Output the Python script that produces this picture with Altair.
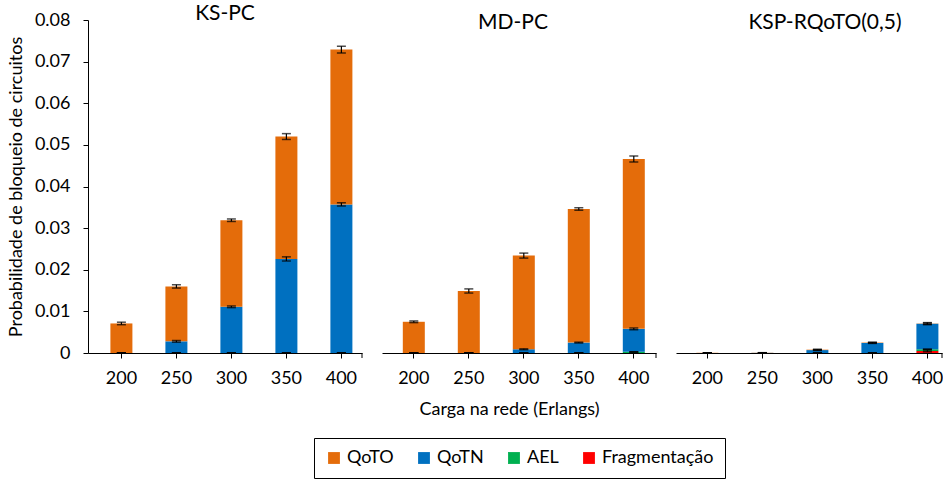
import altair as alt
import pandas as pd

loads = ["200", "250", "300", "350", "400"]
schemes = ["KS-PC", "MD-PC", "KSP-RQoTO(0,5)"]
causes = ["QoTO", "QoTN", "AEL", "Fragmentação"]
cause_colors = ["#E46C0A", "#0070C0", "#00B050", "#FF0000"]
stack_order = ["Fragmentação", "AEL", "QoTN", "QoTO"]  # bottom -> top

# Blocking probability per cause, loads 200..400 Erlangs
ks_qoto = [0.0071, 0.0132, 0.0208, 0.0294, 0.0372]
ks_qotn = [0.0, 0.0028, 0.0111, 0.0226, 0.0357]
ks_ael = [0.0, 0.0, 0.0, 0.0, 0.0]
ks_frag = [0.0, 0.0, 0.0, 0.0, 0.0]

md_qoto = [0.0075, 0.0149, 0.0225, 0.0321, 0.0408]
md_qotn = [0.0, 0.0, 0.0009, 0.0025, 0.0055]
md_ael = [0.0, 0.0, 0.0, 0.0, 0.0003]
md_frag = [0.0, 0.0, 0.0, 0.0, 0.0]

rq_qoto = [0.00005, 0.00004, 0.0001, 0.0001, 0.0001]
rq_qotn = [0.0, 0.00003, 0.0007, 0.0024, 0.0061]
rq_ael = [0.0, 0.0, 0.0, 0.0, 0.0004]
rq_frag = [0.0, 0.0, 0.0, 0.0, 0.0005]

# Confidence-interval half widths
ks_qoto_err = [0.0003, 0.0004, 0.0003, 0.0007, 0.0008]
ks_qotn_err = [0.0, 0.0002, 0.0002, 0.0005, 0.0004]
md_qoto_err = [0.0002, 0.0005, 0.0006, 0.0003, 0.0007]
md_qotn_err = [0.0, 0.0, 0.0001, 0.0001, 0.0002]
rq_qoto_err = [0.0, 0.0, 0.0001, 0.0001, 0.0002]
rq_qotn_err = [0.0, 0.0, 0.0001, 0.0001, 0.0002]
rq_frag_err = [0.0, 0.0, 0.0, 0.0, 0.0002]
zeros = [0.0] * 5

values = {
    "KS-PC": {"QoTO": ks_qoto, "QoTN": ks_qotn, "AEL": ks_ael, "Fragmentação": ks_frag},
    "MD-PC": {"QoTO": md_qoto, "QoTN": md_qotn, "AEL": md_ael, "Fragmentação": md_frag},
    "KSP-RQoTO(0,5)": {"QoTO": rq_qoto, "QoTN": rq_qotn, "AEL": rq_ael, "Fragmentação": rq_frag},
}
errors = {
    "KS-PC": {"QoTO": ks_qoto_err, "QoTN": ks_qotn_err, "AEL": zeros, "Fragmentação": zeros},
    "MD-PC": {"QoTO": md_qoto_err, "QoTN": md_qotn_err, "AEL": zeros, "Fragmentação": zeros},
    "KSP-RQoTO(0,5)": {"QoTO": rq_qoto_err, "QoTN": rq_qotn_err, "AEL": zeros, "Fragmentação": rq_frag_err},
}

rows = []
for s in schemes:
    for i, load in enumerate(loads):
        base = 0.0
        for c in stack_order:
            v = values[s][c][i]
            e = errors[s][c][i]
            top = base + v
            rows.append({"scheme": s, "load": load, "cause": c, "y0": base, "y1": top,
                         "lo": max(top - e, 0.0), "hi": top + e})
            base = top
df = pd.DataFrame(rows)

FONT = "Lato"
H = 333


def panel(scheme, width, outer, align, first, title_dx, x_title):
    d = df[df.scheme == scheme]
    axis_kw = dict(labelAngle=0, labelFontSize=18, labelPadding=11, tickSize=5,
                   domainColor="black", tickColor="black", labelColor="black")
    if x_title:
        axis_kw.update(title=x_title, titleFontSize=18, titleFontWeight="normal",
                       titleColor="black", titlePadding=13, titleX=127)
    else:
        axis_kw.update(title=None)
    x = alt.X("load:N", sort=loads,
              scale=alt.Scale(paddingInner=0.6, paddingOuter=outer, align=align),
              axis=alt.Axis(**axis_kw))
    if first:
        yaxis = alt.Axis(title="Probabilidade de bloqueio de circuitos", values=[i / 100 for i in range(9)],
                         format=".2~f", labelFontSize=18, labelPadding=13, tickSize=5, grid=False,
                         domainColor="black", tickColor="black", labelColor="black",
                         titleFontSize=18, titleFontWeight="normal", titleColor="black", titlePadding=9)
    else:
        yaxis = None
    yscale = alt.Scale(domain=[0, 0.08])

    bars = alt.Chart(d).mark_bar().encode(
        x=x,
        y=alt.Y("y0:Q", scale=yscale, axis=yaxis),
        y2="y1:Q",
        color=alt.Color("cause:N", scale=alt.Scale(domain=causes, range=cause_colors),
                        legend=alt.Legend(title=None, orient="none", legendX=226, legendY=418,
                                          direction="horizontal", symbolType="square",
                                          symbolSize=140, symbolStrokeWidth=0,
                                          labelFontSize=18, labelFont=FONT, labelColor="black",
                                          columnPadding=21, labelOffset=4, padding=11,
                                          strokeColor="black", fillColor="white")),
    )
    whisker = alt.Chart(d).mark_rule(color="black", strokeWidth=1.2).encode(
        x=x, y=alt.Y("lo:Q", scale=yscale), y2="hi:Q")
    caps = alt.Chart(d).transform_fold(["lo", "hi"], as_=["end", "v"]).mark_tick(
        color="black", size=9, thickness=1.5).encode(x=x, y=alt.Y("v:Q", scale=yscale))
    end_tick = alt.Chart(pd.DataFrame({"k": [0]})).mark_rule(color="black").encode(
        x=alt.value(width), y=alt.value(H), y2=alt.value(H + 5))

    return alt.layer(bars, whisker, caps, end_tick).properties(
        width=width, height=H,
        title=alt.TitleParams(text=scheme, fontSize=21, font=FONT, fontWeight="normal",
                              color="black", anchor="middle", offset=-13, dx=title_dx),
    )


chart = alt.hconcat(
    panel("KS-PC", 274, 0.291, 0.7, True, 0, None),
    panel("MD-PC", 274, 0.291, 0.65, False, -6, "Carga na rede (Erlangs)"),
    panel("KSP-RQoTO(0,5)", 266, 0.218, 0.85, False, 16, None),
    spacing=19,
).resolve_scale(x="independent", y="independent").properties(
    padding={"left": 7, "top": 3, "right": 0, "bottom": 0},
).configure(font=FONT).configure_view(stroke=None)

chart.save("out.html", embed_options={"renderer": "svg", "actions": False})
